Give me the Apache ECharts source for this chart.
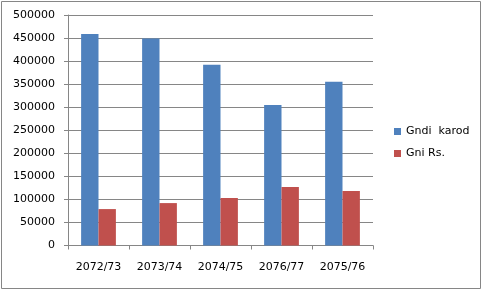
<!DOCTYPE html>
<html>
<head>
<meta charset="utf-8">
<script src="https://cdn.jsdelivr.net/npm/echarts@6/dist/echarts.min.js"></script>
<style>html,body{margin:0;padding:0;background:#fff;}#c{width:483px;height:291px;}</style>
</head>
<body>
<div id="c"></div>
<script>
var categories = ['2072/73', '2073/74', '2074/75', '2076/77', '2075/76'];
var gndiKarod = [459000, 449000, 392000, 305000, 355000];
var gniRs = [79000, 92000, 103000, 127000, 118000];
var seriesNames = ['Gndi  karod', 'Gni Rs.'];

var chart = echarts.init(document.getElementById('c'), null, {renderer: 'canvas'});
var font = 'DejaVu Sans';
chart.setOption({
  animation: false,
  backgroundColor: '#ffffff',
  textStyle: {fontFamily: font},
  graphic: [{
    type: 'rect', silent: true,
    shape: {x: 1.5, y: 1.5, width: 479, height: 287},
    style: {fill: 'none', stroke: '#868686', lineWidth: 1}
  }],
  grid: {left: 68, right: 110, top: 15, bottom: 45.5},
  legend: {
    orient: 'vertical', left: 394, top: 126, padding: 0,
    itemWidth: 7, itemHeight: 7, itemGap: 11,
    icon: 'rect',
    textStyle: {fontFamily: font, fontSize: 11, color: '#000'},
    data: seriesNames
  },
  xAxis: {
    type: 'category', data: categories,
    axisLine: {lineStyle: {color: '#868686'}},
    axisTick: {show: true, length: 4, lineStyle: {color: '#868686'}},
    axisLabel: {color: '#000', fontSize: 11, fontFamily: font, margin: 16}
  },
  yAxis: {
    type: 'value', min: 0, max: 500000, interval: 50000,
    axisLine: {show: true, lineStyle: {color: '#868686'}},
    axisTick: {show: true, length: 4, lineStyle: {color: '#868686'}},
    splitLine: {lineStyle: {color: '#868686'}},
    axisLabel: {color: '#000', fontSize: 11, fontFamily: font, margin: 13, formatter: function (v) { return String(v); }}
  },
  series: [
    {name: seriesNames[0], type: 'bar', data: gndiKarod, barGap: '0%', barCategoryGap: '43%', itemStyle: {color: '#4F81BD'}},
    {name: seriesNames[1], type: 'bar', data: gniRs, barGap: '0%', barCategoryGap: '43%', itemStyle: {color: '#C0504D'}}
  ]
});
</script>
</body>
</html>
